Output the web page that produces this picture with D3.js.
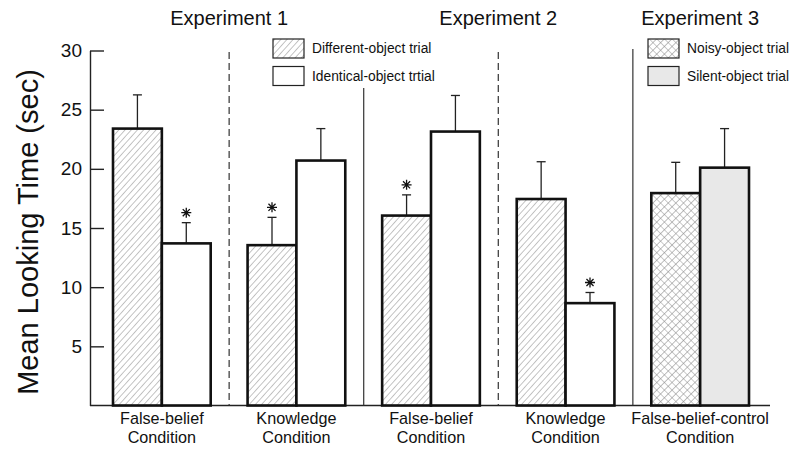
<!DOCTYPE html>
<html lang="en">
<head>
  <meta charset="UTF-8">
  <title>Mean Looking Time</title>
  <script src="https://d3js.org/d3.v7.min.js"></script>
  <style>
    body { margin: 0; background: #fff; }
    text { font-family: "Liberation Sans", Arial, Helvetica, sans-serif; fill: #111; }
  </style>
</head>
<body>
  <svg id="chart" width="796" height="451"></svg>

  <script>
    // conditions (two-line labels), one per pair of bars
    const conditions = [
      ["False-belief", "Condition"],
      ["Knowledge", "Condition"],
      ["False-belief", "Condition"],
      ["Knowledge", "Condition"],
      ["False-belief-control", "Condition"]
    ];
    const experiments = ["Experiment 1", "Experiment 2", "Experiment 3"];

    // first bar of each pair (different-object / noisy-object)
    const firstValues = [23.4, 13.55, 16.05, 17.45, 17.95];
    const firstErrors = [2.85, 2.35, 1.75, 3.15, 2.6];
    const firstStars  = [false, true, true, false, false];

    // second bar of each pair (identical-object / silent-object)
    const secondValues = [13.7, 20.7, 23.15, 8.65, 20.1];
    const secondErrors = [1.75, 2.7, 3.05, 0.9, 3.3];
    const secondStars  = [true, false, false, true, false];

    const yTicks = [5, 10, 15, 20, 25, 30];
    const legendLeft  = ["Different-object trial", "Identical-object trtial"];
    const legendRight = ["Noisy-object trial", "Silent-object trial"];

    const svg = d3.select("#chart");

    const axisX = 90, axisEnd = 770;
    const y = d3.scaleLinear().domain([0, 30]).range([405.5, 50.5]);
    const x = d3.scaleBand()
      .domain(d3.range(conditions.length))
      .range([113, 749])
      .paddingInner(0.274)
      .paddingOuter(0);
    const inner = d3.scaleBand().domain([0, 1]).range([0, x.bandwidth()]);

    // patterns
    const defs = svg.append("defs");
    const hatch = defs.append("pattern")
      .attr("id", "hatch")
      .attr("patternUnits", "userSpaceOnUse")
      .attr("width", 4.6).attr("height", 4.6)
      .attr("patternTransform", "rotate(42)");
    hatch.append("rect").attr("width", 4.6).attr("height", 4.6).attr("fill", "#fff");
    hatch.append("line")
      .attr("x1", 0).attr("y1", 0).attr("x2", 0).attr("y2", 4.6)
      .attr("stroke", "#8a8a8a").attr("stroke-width", 1);

    const cross = defs.append("pattern")
      .attr("id", "cross")
      .attr("patternUnits", "userSpaceOnUse")
      .attr("width", 5.4).attr("height", 5.4)
      .attr("patternTransform", "rotate(45)");
    cross.append("rect").attr("width", 5.4).attr("height", 5.4).attr("fill", "#fff");
    cross.append("path")
      .attr("d", "M0,0V5.4M0,0H5.4")
      .attr("stroke", "#8a8a8a").attr("stroke-width", 1.1);

    const fills = i => i === 4 ? ["url(#cross)", "#e8e8e8"] : ["url(#hatch)", "#fff"];

    // y axis
    const yAxis = d3.axisLeft(y)
      .tickValues(yTicks)
      .tickSize(-14)
      .tickSizeOuter(0)
      .tickPadding(8);
    const gy = svg.append("g").attr("transform", `translate(${axisX},0)`).call(yAxis);
    gy.select(".domain").attr("stroke", "#222").attr("stroke-width", 1.4);
    gy.selectAll(".tick line").attr("stroke", "#222").attr("stroke-width", 1.4);
    gy.selectAll(".tick text")
      .attr("font-size", 19)
      .attr("font-family", "Liberation Sans, Arial, sans-serif")
      .attr("fill", "#111");

    svg.append("line")
      .attr("x1", axisX).attr("x2", axisEnd)
      .attr("y1", y(0)).attr("y2", y(0))
      .attr("stroke", "#222").attr("stroke-width", 1.4);

    svg.append("text")
      .attr("transform", `translate(38,${232}) rotate(-90)`)
      .attr("text-anchor", "middle")
      .attr("font-size", 29)
      .text("Mean Looking Time (sec)");

    // dividers between conditions
    const dividerTops = [52, 88, 52, 49];
    const dividerDash = [true, false, true, false];
    const divX = i => x(i) + x.bandwidth() + x.step() * x.paddingInner() / 2;
    dividerTops.forEach((top, i) => {
      svg.append("line")
        .attr("x1", divX(i)).attr("x2", divX(i))
        .attr("y1", top).attr("y2", y(0))
        .attr("stroke", "#333")
        .attr("stroke-width", 1.2)
        .attr("stroke-dasharray", dividerDash[i] ? "7,4" : null);
    });

    // bars
    conditions.forEach((c, i) => {
      const vals = [firstValues[i], secondValues[i]];
      const errs = [firstErrors[i], secondErrors[i]];
      const stars = [firstStars[i], secondStars[i]];
      const f = fills(i);
      [0, 1].forEach(k => {
        const bx = x(i) + inner(k);
        const cx = bx + inner.bandwidth() / 2;
        const top = vals[k] + errs[k];
        // error bar (upper only)
        svg.append("line")
          .attr("x1", cx).attr("x2", cx)
          .attr("y1", y(vals[k])).attr("y2", y(top))
          .attr("stroke", "#222").attr("stroke-width", 1.3);
        svg.append("line")
          .attr("x1", cx - 4.5).attr("x2", cx + 4.5)
          .attr("y1", y(top)).attr("y2", y(top))
          .attr("stroke", "#222").attr("stroke-width", 1.3);
        svg.append("rect")
          .attr("x", bx).attr("y", y(vals[k]))
          .attr("width", inner.bandwidth())
          .attr("height", y(0) - y(vals[k]))
          .attr("fill", f[k])
          .attr("stroke", "#111")
          .attr("stroke-width", 2.6);
        if (stars[k]) {
          const sy = y(top) - 10, r = 5;
          let d = "";
          for (let a = 0; a < 4; a++) {
            const ang = a * Math.PI / 4;
            d += `M${cx - r * Math.cos(ang)},${sy - r * Math.sin(ang)}L${cx + r * Math.cos(ang)},${sy + r * Math.sin(ang)}`;
          }
          svg.append("path").attr("d", d).attr("stroke", "#111").attr("stroke-width", 1.3);
        }
      });
      // condition label
      const t = svg.append("text")
        .attr("x", x(i) + x.bandwidth() / 2)
        .attr("y", 424)
        .attr("text-anchor", "middle")
        .attr("font-size", 16.2);
      c.forEach((line, li) => {
        t.append("tspan")
          .attr("x", x(i) + x.bandwidth() / 2)
          .attr("dy", li === 0 ? 0 : 18.5)
          .text(line);
      });
    });

    // experiment titles
    const titleX = [divX(0), divX(2), x(4) + x.bandwidth() / 2];
    experiments.forEach((e, i) => {
      svg.append("text")
        .attr("x", titleX[i]).attr("y", 25)
        .attr("text-anchor", "middle")
        .attr("font-size", 20)
        .text(e);
    });

    // legends
    function legend(items, fillsArr, lx) {
      items.forEach((label, i) => {
        const ly = 39 + i * 27.5;
        svg.append("rect")
          .attr("x", lx).attr("y", ly)
          .attr("width", 31).attr("height", 19)
          .attr("fill", fillsArr[i])
          .attr("stroke", "#222").attr("stroke-width", 1.2);
        svg.append("text")
          .attr("x", lx + 39).attr("y", ly + 14)
          .attr("font-size", 13.8)
          .text(label);
      });
    }
    legend(legendLeft, fills(0), 273);
    legend(legendRight, fills(4), 648);
  </script>
</body>
</html>
